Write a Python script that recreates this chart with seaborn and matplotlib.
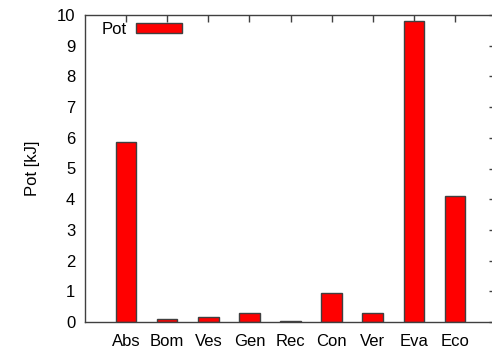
import matplotlib
matplotlib.use("Agg")
import matplotlib.pyplot as plt
import seaborn as sns
import pandas as pd

categories = ["Abs", "Bom", "Ves", "Gen", "Rec", "Con", "Ver", "Eva", "Eco"]
pot_values = [5.85, 0.085, 0.17, 0.30, 0.03, 0.96, 0.29, 9.81, 4.10]
y_ticks = list(range(0, 11))
series_name = "Pot"
y_label = "Pot [kJ]"

sns.set_theme(style="white")
plt.rcParams["font.family"] = ["Liberation Sans", "DejaVu Sans"]
plt.rcParams["text.color"] = "black"

df = pd.DataFrame({"cat": categories, "val": pot_values})

fig = plt.figure(figsize=(4.92, 3.5), dpi=100)
ax = fig.add_axes([85 / 492, 1 - 322 / 350, 411 / 492, 307 / 350])

sns.barplot(data=df, x="cat", y="val", color="#ff0000", saturation=1,
            edgecolor="#404040", linewidth=1.0, width=0.5, ax=ax,
            label=series_name)

ax.set_xlim(-1, 9)
ax.set_ylim(0, 10)
ax.set_yticks(y_ticks)
ax.set_xlabel("")
ax.set_ylabel(y_label, fontsize=12, labelpad=12, color="black")

for s in ax.spines.values():
    s.set_color("#404040")
    s.set_linewidth(1.0)

ax.tick_params(axis="both", direction="in", length=5, width=1, color="#404040",
               top=True, right=True, labelsize=12, labelcolor="black")
ax.tick_params(axis="x", pad=9)
ax.tick_params(axis="y", pad=7)

leg = ax.legend(loc="upper left", bbox_to_anchor=(0.015, 1.01), frameon=False,
                markerfirst=False, handlelength=2.75, handleheight=0.55,
                handletextpad=0.6, fontsize=12, borderaxespad=0.2)
for t in leg.get_texts():
    t.set_color("black")

fig.savefig("out.png", dpi=100)
